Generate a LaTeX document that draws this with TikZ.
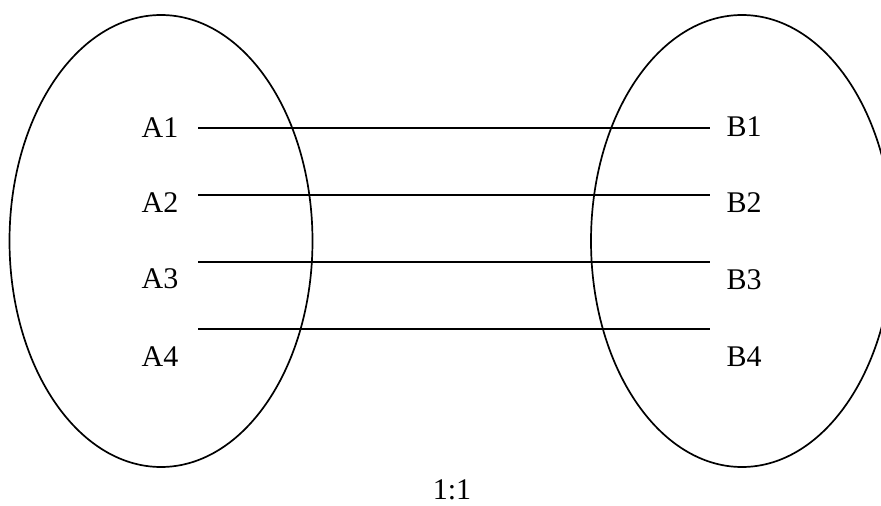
\documentclass[tikz,border=0pt]{standalone}
\usepackage{fontspec}
\setmainfont{Liberation Serif}
\usetikzlibrary{shapes.geometric}
\begin{document}
\begin{tikzpicture}[x=1pt,y=-1pt,
  setellipse/.style={draw, ellipse, line width=1.7pt, inner sep=0pt},
  lbl/.style={font=\fontsize{30}{36}\selectfont, inner sep=0pt, anchor=center},
  link/.style={line width=2.5pt}]
\useasboundingbox (0,0) rectangle (881,506);
\begin{scope}
\clip (0,0) rectangle (881,506);
\node[setellipse, minimum width=303pt, minimum height=452pt] (EA) at (161,241) {};
\node[setellipse, minimum width=302pt, minimum height=452pt] (EB) at (742,241) {};
\end{scope}
\node[lbl] (A1) at (160,128) {A1};
\node[lbl] (A2) at (160,203) {A2};
\node[lbl] (A3) at (160,279) {A3};
\node[lbl] (A4) at (160,357) {A4};
\node[lbl] (B1) at (744,127) {B1};
\node[lbl] (B2) at (744,203) {B2};
\node[lbl] (B3) at (744,280) {B3};
\node[lbl] (B4) at (744,357) {B4};
\node[lbl] (R) at (452,490) {1:1};
\coordinate (l1) at (198,128); \coordinate (r1) at (710,128);
\coordinate (l2) at (198,195); \coordinate (r2) at (710,195);
\coordinate (l3) at (198,262); \coordinate (r3) at (710,262);
\coordinate (l4) at (198,329); \coordinate (r4) at (710,329);
\draw[link] (l1) -- (r1);
\draw[link] (l2) -- (r2);
\draw[link] (l3) -- (r3);
\draw[link] (l4) -- (r4);
\end{tikzpicture}
\end{document}
